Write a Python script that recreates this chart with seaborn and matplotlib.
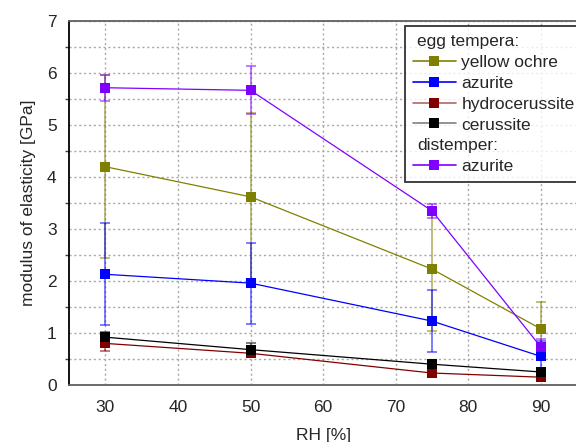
import matplotlib
matplotlib.use("Agg")
import matplotlib.pyplot as plt
from matplotlib.lines import Line2D
from matplotlib.ticker import MultipleLocator
import numpy as np
import pandas as pd
import seaborn as sns

# Relative humidity levels [%]
rh = [30, 50, 75, 90]

# Modulus of elasticity [GPa] and standard deviations
yellow_ochre = [4.20, 3.62, 2.23, 1.08]
yellow_ochre_err = [1.76, 1.61, 1.20, 0.52]
azurite_egg = [2.13, 1.96, 1.23, 0.55]
azurite_egg_err = [0.98, 0.78, 0.60, 0.30]
hydrocerussite = [0.80, 0.61, 0.23, 0.15]
hydrocerussite_err = [0.14, 0.08, 0.05, 0.04]
cerussite = [0.92, 0.68, 0.40, 0.25]
cerussite_err = [0.10, 0.12, 0.06, 0.05]
azurite_dist = [5.72, 5.67, 3.35, 0.73]
azurite_dist_err = [0.25, 0.46, 0.14, 0.16]

series = [
    ("egg tempera: yellow ochre", "yellow ochre", yellow_ochre, yellow_ochre_err, "#808000", "#808000"),
    ("egg tempera: azurite", "azurite", azurite_egg, azurite_egg_err, "#0000ff", "#0000ff"),
    ("egg tempera: hydrocerussite", "hydrocerussite", hydrocerussite, hydrocerussite_err, "#800000", "#b06868"),
    ("egg tempera: cerussite", "cerussite", cerussite, cerussite_err, "#000000", "#808080"),
    ("distemper: azurite", "azurite", azurite_dist, azurite_dist_err, "#8000ff", "#8000ff"),
]

rows = []
for key, _, vals, errs, _, _ in series:
    for x, v, e in zip(rh, vals, errs):
        rows.append({"RH": x, "E": v, "err": e, "sample": key})
df = pd.DataFrame(rows)

sns.set_style("white")
plt.rcParams["font.family"] = ["Liberation Sans", "DejaVu Sans"]
plt.rcParams["font.size"] = 12.5

fig = plt.figure(figsize=(5.76, 4.42), dpi=100)
ax = fig.add_axes([0.12, 0.129, 0.882, 0.823])

palette = {key: c for key, _, _, _, c, _ in series}

# error bars underneath the lines
for key, _, vals, errs, c, _ in series:
    ax.errorbar(rh, vals, yerr=errs, fmt="none", ecolor=c, alpha=0.6,
                elinewidth=1.2, capsize=3.5, capthick=1.2, zorder=2)

sns.lineplot(data=df, x="RH", y="E", hue="sample", palette=palette,
             hue_order=[s[0] for s in series], marker="s", markersize=6.5,
             markeredgewidth=0, linewidth=0.9, dashes=False, legend=False,
             ax=ax, zorder=3)

ax.set_xlim(25, 95)
ax.set_ylim(0, 7)
ax.xaxis.set_major_locator(MultipleLocator(10))
ax.yaxis.set_major_locator(MultipleLocator(1))
ax.yaxis.set_minor_locator(MultipleLocator(0.5))

ax.grid(True, which="major", axis="both", color="#a8a8a8", linestyle=(0, (1.5, 2)), linewidth=1.0)
ax.grid(True, which="minor", axis="y", color="#a8a8a8", linestyle=(0, (1.5, 2)), linewidth=1.0)
ax.set_axisbelow(True)

ax.tick_params(axis="both", which="major", direction="out", length=5, width=1, color="#404040",
               labelsize=12.5)
ax.tick_params(axis="x", which="major", pad=6)
ax.tick_params(axis="y", which="major", pad=4)
ax.tick_params(axis="y", which="minor", direction="out", length=3, width=1, color="#404040", left=True)

for side in ["top", "bottom"]:
    ax.spines[side].set_color("#606060")
    ax.spines[side].set_linewidth(1.3)
ax.spines["left"].set_color("#000000")
ax.spines["left"].set_linewidth(1.3)
ax.spines["right"].set_visible(False)

ax.set_xlabel("RH [%]", fontsize=12.5, labelpad=9)
ax.set_ylabel("modulus of elasticity [GPa]", fontsize=12.5, labelpad=8)

# grouped legend with section headers
blank = Line2D([], [], linestyle="none")
handles, labels = [blank], ["egg tempera:"]
for key, lab, _, _, c, lc in series[:4]:
    handles.append(Line2D([], [], color=lc, linewidth=1.2, marker="s", markersize=6.5,
                          markerfacecolor=c, markeredgewidth=0))
    labels.append(lab)
handles.append(blank)
labels.append("distemper:")
key, lab, _, _, c, lc = series[4]
handles.append(Line2D([], [], color=lc, linewidth=1.2, marker="s", markersize=6.5,
                      markerfacecolor=c, markeredgewidth=0))
labels.append(lab)

leg = ax.legend(handles, labels, loc="upper left", bbox_to_anchor=(0.703, 0.941),
                bbox_transform=fig.transFigure, fontsize=12.5, frameon=True, fancybox=False,
                handlelength=2.5, handletextpad=0.3, labelspacing=0.33, borderpad=0.45,
                borderaxespad=0)
leg.get_frame().set_edgecolor("#000000")
leg.get_frame().set_linewidth(1.3)
leg.set_zorder(5)
for i in (0, 5):
    leg.get_texts()[i].set_position((-44, 0))

fig.savefig("out.png", dpi=100)
